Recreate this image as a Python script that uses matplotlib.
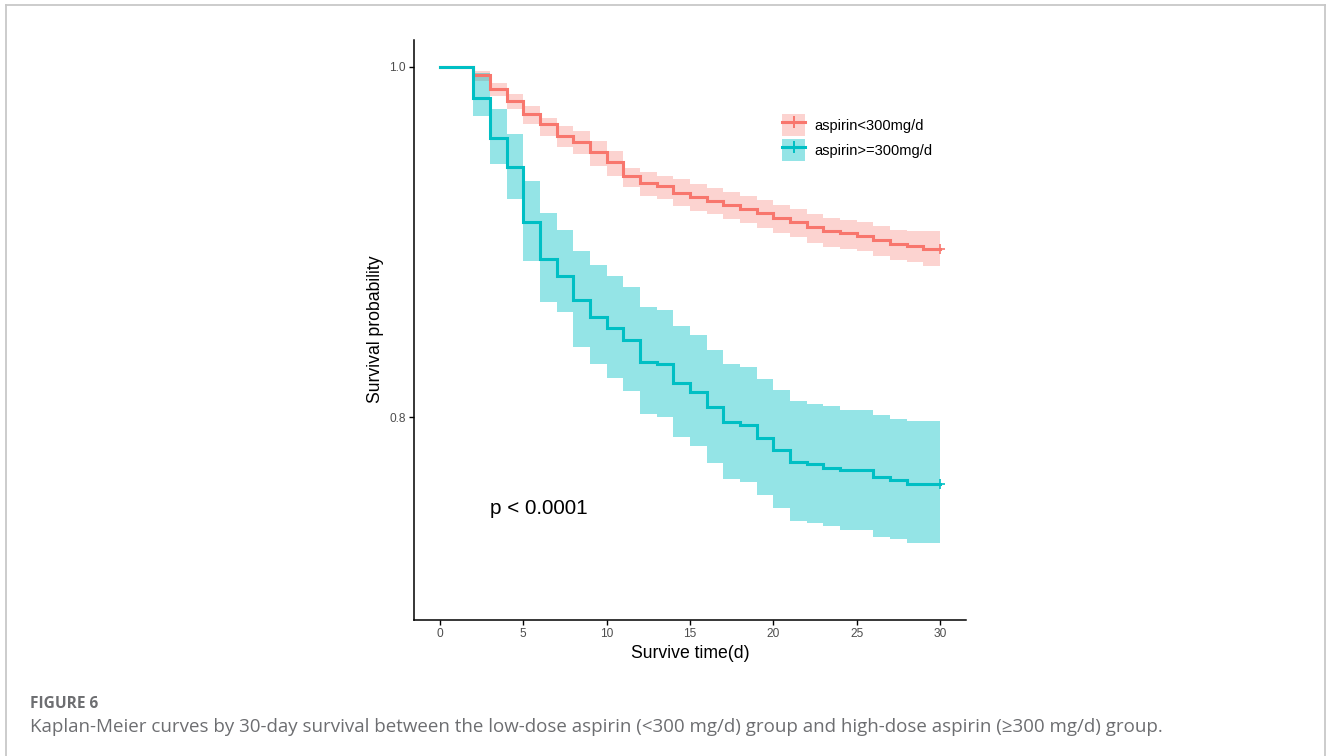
import matplotlib
matplotlib.use('Agg')
import matplotlib.pyplot as plt
from matplotlib.patches import Patch
from matplotlib.lines import Line2D

plt.rcParams['font.family'] = ['Liberation Sans', 'DejaVu Sans']

RED = '#F8766D'
CYAN = '#00BFC4'
CAPTION = '#6D6E71'
FRAME = '#C8C8C8'

# days 0..30, survival value holding from that day on
days = list(range(31))

low_surv = [1.0, 1.0, 0.9953, 0.9873, 0.9806, 0.9730, 0.9673, 0.9607, 0.9569, 0.9512,
            0.9455, 0.9379, 0.9340, 0.9318, 0.9280, 0.9256, 0.9237, 0.9214, 0.9189, 0.9164,
            0.9138, 0.9113, 0.9084, 0.9062, 0.9050, 0.9037, 0.9012, 0.8990, 0.8980, 0.8961,
            0.8961]
low_upper = [1.0, 1.0, 0.9975, 0.9910, 0.9848, 0.9778, 0.9711, 0.9664, 0.9635, 0.9578,
             0.9520, 0.9426, 0.9398, 0.9379, 0.9360, 0.9330, 0.9310, 0.9288, 0.9262, 0.9238,
             0.9212, 0.9188, 0.9160, 0.9140, 0.9128, 0.9115, 0.9090, 0.9070, 0.9062, 0.9062,
             0.9062]
low_lower = [1.0, 1.0, 0.9920, 0.9835, 0.9759, 0.9673, 0.9607, 0.9544, 0.9502, 0.9436,
             0.9379, 0.9312, 0.9265, 0.9246, 0.9205, 0.9180, 0.9160, 0.9135, 0.9108, 0.9082,
             0.9055, 0.9028, 0.8998, 0.8975, 0.8962, 0.8948, 0.8920, 0.8898, 0.8888, 0.8866,
             0.8866]

high_surv = [1.0, 1.0, 0.9825, 0.9597, 0.9430, 0.9113, 0.8904, 0.8805, 0.8667, 0.8575,
             0.8511, 0.8441, 0.8318, 0.8302, 0.8195, 0.8144, 0.8059, 0.7973, 0.7954, 0.7884,
             0.7812, 0.7746, 0.7731, 0.7713, 0.7698, 0.7698, 0.7660, 0.7641, 0.7618, 0.7618,
             0.7618]
high_upper = [1.0, 1.0, 0.9965, 0.9759, 0.9617, 0.9350, 0.9164, 0.9070, 0.8952, 0.8872,
              0.8809, 0.8743, 0.8629, 0.8615, 0.8519, 0.8471, 0.8386, 0.8302, 0.8287, 0.8220,
              0.8154, 0.8091, 0.8078, 0.8063, 0.8044, 0.8044, 0.8011, 0.7992, 0.7979, 0.7979,
              0.7979]
high_lower = [1.0, 1.0, 0.9720, 0.9446, 0.9246, 0.8890, 0.8657, 0.8600, 0.8400, 0.8302,
              0.8226, 0.8150, 0.8021, 0.8002, 0.7888, 0.7835, 0.7740, 0.7650, 0.7631, 0.7556,
              0.7480, 0.7410, 0.7395, 0.7380, 0.7356, 0.7356, 0.7318, 0.7303, 0.7284, 0.7284,
              0.7284]

labels = ['aspirin<300mg/d', 'aspirin>=300mg/d']

W, H = 1330, 756
fig = plt.figure(figsize=(13.3, 7.56), dpi=100)
fig.patch.set_facecolor('white')

# axes box in pixels: x 414..966, y 40..620
ax = fig.add_axes([414 / W, 1 - 620 / H, (966 - 414) / W, (620 - 40) / H])
ax.set_xlim(-1.55, 31.55)
ax.set_ylim(0.6843, 1.0154)

series = [(low_surv, low_upper, low_lower, RED, 0.32),
          (high_surv, high_upper, high_lower, CYAN, 0.42)]
for surv, up, lo, col, a in series:
    ax.fill_between(days, lo, up, step='post', color=col, alpha=a, linewidth=0)
for surv, up, lo, col, a in series:
    ax.step(days, surv, where='post', color=col, linewidth=2.2, solid_joinstyle='miter')
    ax.plot(days[-1], surv[-1], marker='+', color=col, markersize=7, mew=1.2)

ax.set_xticks([0, 5, 10, 15, 20, 25, 30])
ax.set_yticks([0.8, 1.0])
ax.set_yticklabels(['0.8', '1.0'])
ax.tick_params(axis='both', length=3.5, width=1, color='black', labelsize=8.6,
               labelcolor='#4D4D4D', pad=2.5)
for s in ['top', 'right']:
    ax.spines[s].set_visible(False)
for s in ['left', 'bottom']:
    ax.spines[s].set_color('black')
    ax.spines[s].set_linewidth(1.1)

ax.text(3.0, 0.7481, 'p < 0.0001', fontsize=14.9, color='black', ha='left', va='center')

fig.text(376 / W, 1 - 329 / H, 'Survival probability', rotation=90, fontsize=12.7,
         ha='center', va='center', color='black')
fig.text(690.5 / W, 1 - 653.5 / H, 'Survive time(d)', fontsize=12.7,
         ha='center', va='center', color='black')

# legend: filled patch + line with censor mark
handles = []
for surv, up, lo, col, a in series:
    handles.append((Patch(facecolor=col, alpha=a, edgecolor='none'),
                    Line2D([], [], color=col, linewidth=2.2, marker='+', markersize=8, mew=1.4)))
fig.legend(handles, labels, loc='upper left', bbox_to_anchor=(782 / W, 1 - 114 / H),
           bbox_transform=fig.transFigure, frameon=False, fontsize=10.5,
           borderpad=0, borderaxespad=0, handlelength=1.58, handleheight=1.95,
           handletextpad=0.62, labelspacing=0.22, numpoints=1)

# caption
cap_fam = ['Open Sans', 'DejaVu Sans']
fig.text(30 / W, 1 - 708 / H, 'FIGURE 6', fontsize=11.2, fontweight='bold', color=CAPTION,
         family=cap_fam, ha='left', va='baseline')
fig.text(30 / W, 1 - 732 / H,
         'Kaplan-Meier curves by 30-day survival between the low-dose aspirin (<300 mg/d) group '
         'and high-dose aspirin (\u2265300 mg/d) group.',
         fontsize=13.5, color=CAPTION, family=cap_fam, ha='left', va='baseline')

# page frame (open at the bottom)
fl = dict(color=FRAME, linewidth=1.3, transform=fig.transFigure)
fig.add_artist(Line2D([6 / W, 6 / W], [0, 1 - 5 / H], **fl))
fig.add_artist(Line2D([6 / W, 1325 / W], [1 - 5 / H, 1 - 5 / H], **fl))
fig.add_artist(Line2D([1325 / W, 1325 / W], [0, 1 - 5 / H], **fl))

fig.savefig('out.png', dpi=100, facecolor='white')
